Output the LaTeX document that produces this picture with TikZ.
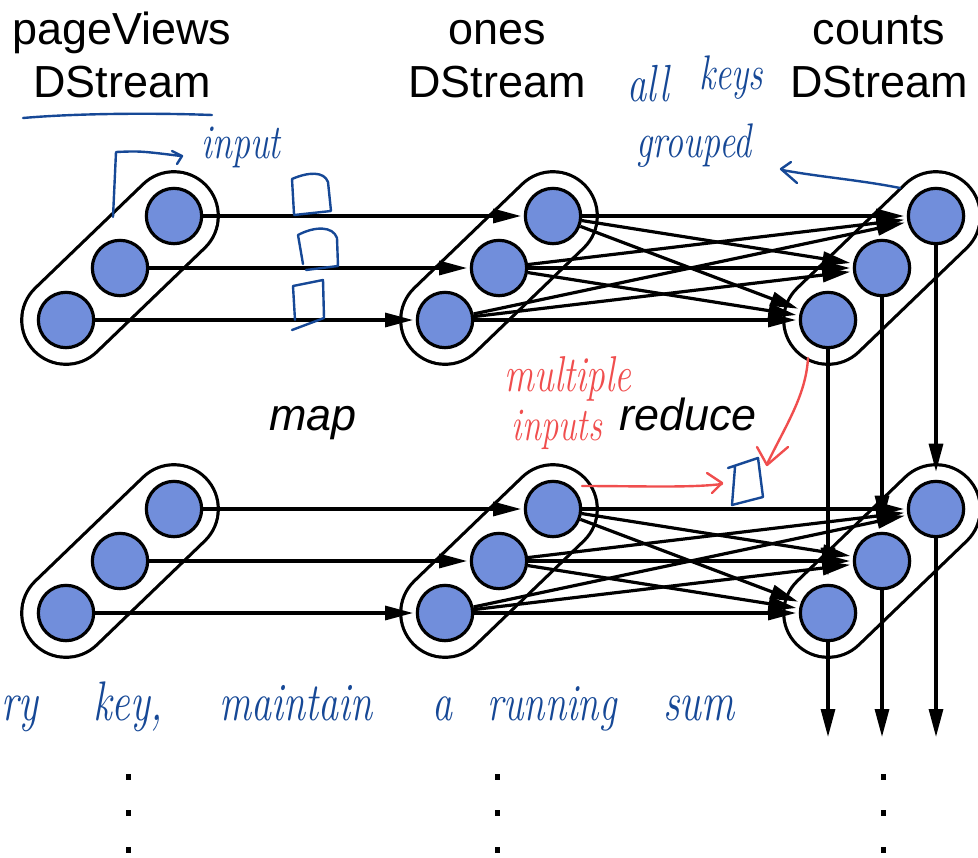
\documentclass[tikz,border=0pt]{standalone}
\usepackage{fontspec}
\usepackage{graphicx}
\newfontfamily\labelfont{Liberation Sans}
\newcommand{\penword}[1]{\scalebox{1}[1.35]{#1}}
\usetikzlibrary{arrows.meta,backgrounds}
\definecolor{dotblue}{RGB}{113,142,219}
\definecolor{penblue}{RGB}{22,72,150}
\definecolor{penred}{RGB}{240,78,78}
\begin{document}
\begin{tikzpicture}[x=0.75pt,y=-0.75pt,
  ball/.style={circle, draw=black, line width=2.4pt, fill=dotblue,
    minimum size=41.5pt, inner sep=0pt},
  flow/.style={line width=2.4pt, -{Triangle[length=21pt,width=10.5pt]},
    shorten >=2pt},
  capsule/.style={line width=2.4pt, double=white, double distance=64pt,
    line cap=round},
  title/.style={font=\labelfont\fontsize{33.7}{40}\selectfont,
    anchor=base, inner sep=0pt},
  opname/.style={font=\labelfont\itshape\fontsize{33.7}{40}\selectfont,
    anchor=base, inner sep=0pt},
  hand/.style={font=\itshape\fontsize{#1}{#1}\selectfont, text=penblue,
    anchor=base, inner sep=0pt},
  penb/.style={draw=penblue, line width=1.8pt, line cap=round,
    line join=round},
  penr/.style={draw=penred, line width=1.8pt, line cap=round,
    line join=round}]
\useasboundingbox (0,0) rectangle (978,857);

% stream titles
\node[title] (tp1) at (122,44) {pageViews};
\node[title] (tp2) at (122,97) {DStream};
\node[title] (to1) at (497,44) {ones};
\node[title] (to2) at (497,97) {DStream};
\node[title] (tc1) at (879,44) {counts};
\node[title] (tc2) at (879,97) {DStream};

% operation names
\node[opname] (opmap) at (313,430) {map};
\node[opname] (opred) at (688,430) {reduce};

% partitions: group p = pageViews, o = ones, c = counts; row t/b
\foreach \g/\gx in {p/66,o/445,c/828}
  \foreach \r/\ry in {t/320,b/613}
    \foreach \i in {1,2,3}
      \node[ball] (\g\r\i) at ({\gx+54*(\i-1)},{\ry-52*(\i-1)}) {};

% RDD outlines behind the partitions
\begin{scope}[on background layer]
  \foreach \g in {p,o,c}
    \foreach \r in {t,b}
      \draw[capsule] (\g\r1.center) -- (\g\r3.center);
\end{scope}

% map and reduce dependencies
\foreach \r in {t,b} {
  \foreach \i in {1,2,3}
    \draw[flow] (p\r\i) -- (o\r\i);
  \foreach \i in {1,2,3}
    \foreach \j in {1,2,3}
      \draw[flow] (o\r\i) -- (c\r\j);
}

% state carried from one interval to the next
\foreach \j in {1,2,3} {
  \coordinate (out\j) at ({828+54*(\j-1)},737);
  \draw[flow, shorten >=6pt] (ct\j) -- (cb\j);
  \draw[flow, shorten >=0pt] (cb\j) -- (out\j);
}

% continuation dots
\foreach \x in {128,497,883}
  \foreach \y in {777,813,850}
    \fill (\x-2.5,\y-3) rectangle (\x+2.5,\y+3);

% pen notes (blue)
\draw[penb] (23,118) .. controls (80,113) and (160,113) .. (212,115);
\draw[penb] (113,217) -- (116,152) .. controls (140,151) .. (181,156);
\draw[penb] (172,151) -- (182,156) -- (177,164);
\node[hand=27] (ninput) at (241,158) {\penword{input}};

\draw[penb] (294,214) -- (292,179) .. controls (308,172) and (324,171) .. (328,182) -- (331,211) -- (294,215);
\draw[penb] (303,264) -- (298,235) .. controls (315,226) and (333,226) .. (337,238) -- (338,266) -- (306,270);
\draw[penb] (295,320) -- (293,286) -- (323,280) -- (324,318) -- (292,330);
\draw[penb] (728,468) -- (758,458) -- (763,497) -- (732,505) -- (735,467);

\node[hand=29] (nall) at (648,101) {\penword{all}};
\node[hand=27] (nkeys) at (731,89) {\penword{keys}};
\node[hand=27] (ngrp) at (694,157) {\penword{grouped}};
\draw[penb] (900,188) .. controls (860,180) and (820,177) .. (782,170);
\draw[penb] (791,162) -- (781,169) -- (797,183);

\node[hand=31, anchor=base west] (nw1) at (1,720) {\penword{ry}};
\node[hand=31] (nw2) at (128,720) {\penword{key,}};
\node[hand=30] (nw3) at (296,720) {\penword{maintain}};
\node[hand=30] (nw4) at (442,720) {\penword{a}};
\node[hand=29] (nw5) at (552,720) {\penword{running}};
\node[hand=31] (nw6) at (699,720) {\penword{sum}};

% pen notes (red)
\node[hand=28, text=penred] (nmul) at (568,391) {\penword{multiple}};
\node[hand=26, text=penred] (ninp) at (557,440) {\penword{inputs}};
\draw[penr] (582,486) .. controls (640,486) and (690,488) .. (722,484);
\draw[penr] (707,473) -- (722,483) -- (712,493);
\draw[penr] (808,358) .. controls (806,395) and (786,425) .. (767,464);
\draw[penr] (757,447) -- (767,465) -- (788,447);
\end{tikzpicture}
\end{document}
